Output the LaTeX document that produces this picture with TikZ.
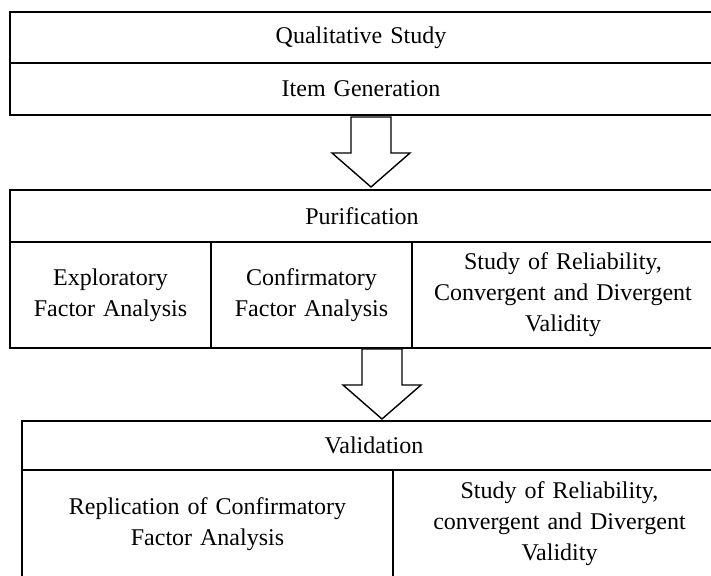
\documentclass[tikz,border=0pt]{standalone}
\usepackage{fontspec}
\setmainfont{Liberation Serif}
\usetikzlibrary{positioning}
\tikzset{cell/.style={draw=black, line width=0.7pt, fill=white, rectangle,
    inner xsep=0pt, inner ysep=0pt, outer sep=0pt, align=center,
    anchor=north west, font=\fontsize{12}{15.5}\selectfont}}
\tikzset{blockarrow/.style={draw=black, line width=0.7pt, fill=white, line join=miter}}

\begin{document}
\begin{tikzpicture}[x=0.5pt, y=-0.5pt]
    \useasboundingbox (0,0) rectangle (711,576);
    \clip (0,0) rectangle (711,576);
    % first stage
    \node [cell, line width=1pt, text width=351pt, minimum height=25.5pt] (qual) at (10,12) {Qualitative Study};
    \node [cell, line width=1pt, text width=351pt, minimum height=26pt, below=0pt of qual] (item) {Item Generation};
    % purification
    \node [cell, text width=352pt, minimum height=26pt] (purif) at (10,190) {Purification};
    \node [cell, text width=100.5pt, minimum height=53pt] (efa) at (purif.south west) {Exploratory\\Factor Analysis};
    \node [cell, text width=100.5pt, minimum height=53pt] (cfa) at (efa.north east) {Confirmatory\\Factor Analysis};
    \node [cell, text width=151pt, minimum height=53pt] (rel1) at (cfa.north east) {Study of Reliability,\\Convergent and Divergent\\Validity};
    % validation
    \node [cell, text width=352pt, minimum height=24.5pt] (valid) at (22,421) {Validation};
    \node [cell, text width=185.5pt, minimum height=54pt] (rcfa) at (valid.south west) {Replication of Confirmatory\\Factor Analysis};
    \node [cell, text width=166.5pt, minimum height=54pt] (rel2) at (rcfa.north east) {Study of Reliability,\\convergent and Divergent\\Validity};
    % big arrows between the stages
    \coordinate (t1) at ([xshift=5pt, yshift=-1pt]item.south);
    \coordinate (t2) at ([xshift=-15pt, yshift=-0.5pt]cfa.south east);
    \foreach \t in {t1,t2}
        \draw[blockarrow] (\t) +(-20,0) -- +(-20,36) -- +(-39,36) -- +(0,70) -- +(39,36) -- +(20,36) -- +(20,0) -- cycle;
\end{tikzpicture}
\end{document}
